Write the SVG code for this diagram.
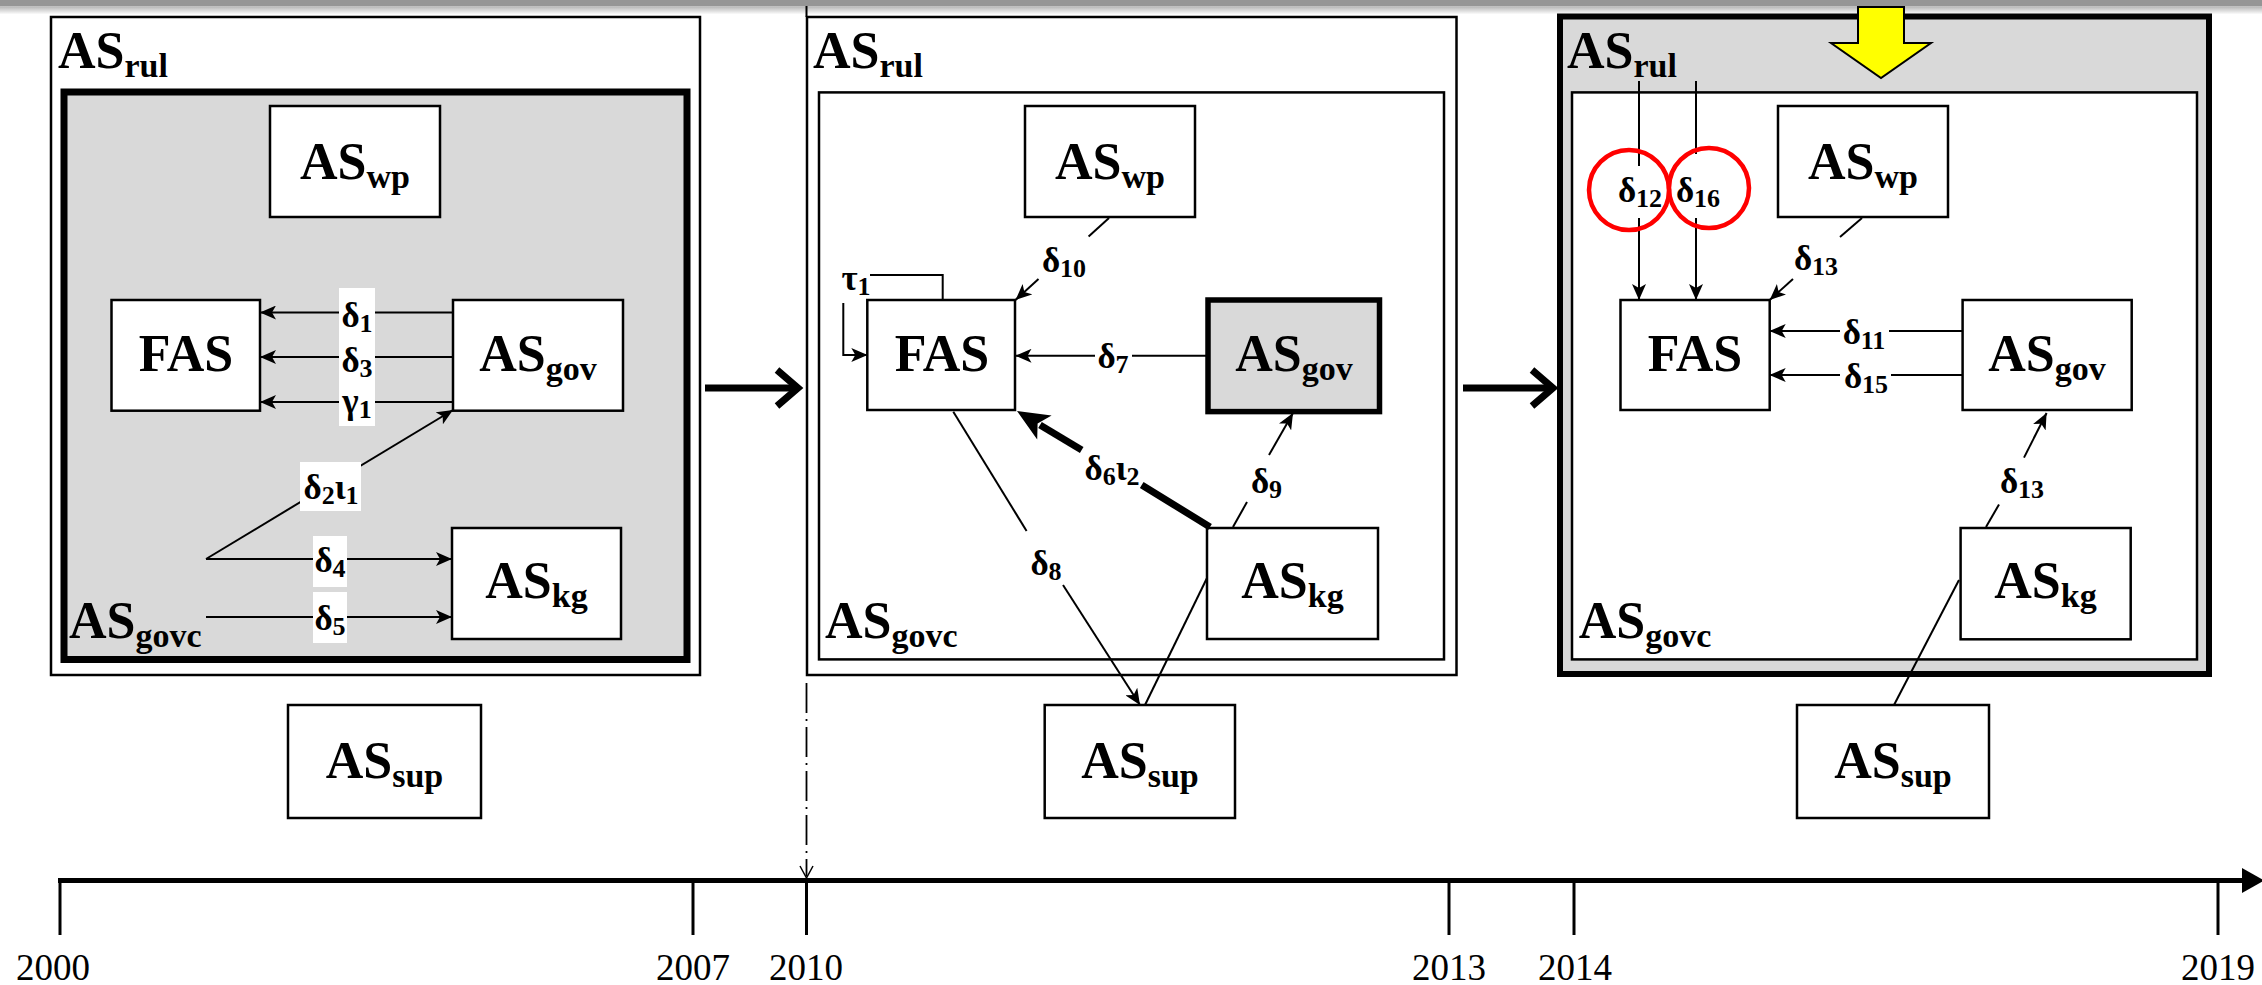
<svg xmlns="http://www.w3.org/2000/svg" width="2262" height="985" viewBox="0 0 2262 985" font-family="'Liberation Serif', 'Times New Roman', serif">
<style>
.frame{fill:#fff;stroke:#000;stroke-width:2.5}
.box{fill:#fff;stroke:#000;stroke-width:2.5}
.t{font-family:'Liberation Serif','Times New Roman',serif;font-weight:bold;font-size:52px;text-anchor:middle;fill:#000}
.ts{font-family:'Liberation Serif','Times New Roman',serif;font-weight:bold;font-size:52px;fill:#000}
.s{font-size:34px}
.lb{font-family:'Liberation Serif','Times New Roman',serif;font-weight:bold;font-size:35px;text-anchor:middle;fill:#000}
.ls{font-size:26px}
.c{stroke:#000;stroke-width:2;fill:none}
.ca{stroke:#000;stroke-width:2;fill:none;marker-end:url(#ah)}
.thick{stroke:#000;stroke-width:7;fill:none}
.yr{font-family:'Liberation Serif','Times New Roman',serif;font-size:37px;text-anchor:middle;fill:#000}
.wbg{fill:#fff;stroke:none}
.ring{fill:none;stroke:#ff0000;stroke-width:4.5}
</style>
<defs>
<marker id="ah" markerUnits="userSpaceOnUse" viewBox="0 0 16 14" refX="16" refY="7" markerWidth="16" markerHeight="14" orient="auto">
<path d="M0,0 L16,7 L0,14 L4,7 Z" fill="#000"/>
</marker>
<linearGradient id="shade" x1="0" y1="0" x2="0" y2="1">
<stop offset="0" stop-color="#b5b5b5"/>
<stop offset="1" stop-color="#ffffff"/>
</linearGradient>
</defs>

<rect x="0" y="0" width="2262" height="6.5" fill="#959595"/>
<rect x="0" y="6.5" width="2262" height="8" fill="url(#shade)"/>

<g id="frame1">
<rect class="frame" x="51" y="17" width="649" height="658"/>
<text class="ts" x="58" y="68">AS<tspan class="s" dy="9">rul</tspan></text>
<rect x="64" y="92" width="623" height="567.5" fill="#d9d9d9" stroke="#000" stroke-width="7"/>
<text class="ts" x="69" y="638">AS<tspan class="s" dy="9">govc</tspan></text>
</g>
<g id="frame2">
<rect class="frame" x="807" y="17" width="649.5" height="658"/>
<text class="ts" x="813" y="68">AS<tspan class="s" dy="9">rul</tspan></text>
<rect class="box" x="819" y="92.4" width="625" height="567"/>
<text class="ts" x="825" y="637.5">AS<tspan class="s" dy="9">govc</tspan></text>
</g>
<g id="frame3">
<rect x="1560" y="16.5" width="649" height="657.5" fill="#d9d9d9" stroke="#000" stroke-width="6"/>
<text class="ts" x="1567" y="68">AS<tspan class="s" dy="9">rul</tspan></text>
<rect class="box" x="1572" y="92.4" width="625" height="567"/>
<text class="ts" x="1578.7" y="637.5">AS<tspan class="s" dy="9">govc</tspan></text>
</g>

<g id="p1-wp"><rect class="box" x="270" y="106" width="170" height="111"/><text class="t" x="355" y="179">AS<tspan class="s" dy="9">wp</tspan></text></g>
<g id="p1-fas"><rect class="box" x="111.5" y="300" width="148.5" height="110.7"/><text class="t" x="186" y="371">FAS</text></g>
<g id="p1-gov"><rect class="box" x="453" y="300" width="170" height="110.7"/><text class="t" x="538" y="371">AS<tspan class="s" dy="9">gov</tspan></text></g>
<g id="p1-kg"><rect class="box" x="452" y="528" width="169" height="111"/><text class="t" x="536.5" y="598">AS<tspan class="s" dy="9">kg</tspan></text></g>
<g id="p1-sup"><rect class="box" x="288" y="705" width="193" height="113"/><text class="t" x="384.5" y="778">AS<tspan class="s" dy="9">sup</tspan></text></g>

<g id="p2-wp"><rect class="box" x="1025" y="106" width="170" height="111"/><text class="t" x="1110" y="179">AS<tspan class="s" dy="9">wp</tspan></text></g>
<g id="p2-fas"><rect class="box" x="867.3" y="300" width="147.7" height="110"/><text class="t" x="942" y="371">FAS</text></g>
<g id="p2-gov"><rect x="1208" y="300" width="171.5" height="111.6" fill="#d9d9d9" stroke="#000" stroke-width="5.5"/><text class="t" x="1294" y="371">AS<tspan class="s" dy="9">gov</tspan></text></g>
<g id="p2-kg"><rect class="box" x="1207" y="528" width="171" height="111"/><text class="t" x="1292.5" y="598">AS<tspan class="s" dy="9">kg</tspan></text></g>
<g id="p2-sup"><rect class="box" x="1044.7" y="705" width="190.3" height="113"/><text class="t" x="1140" y="778">AS<tspan class="s" dy="9">sup</tspan></text></g>

<g id="p3-wp"><rect class="box" x="1778" y="106" width="170" height="111"/><text class="t" x="1863" y="179">AS<tspan class="s" dy="9">wp</tspan></text></g>
<g id="p3-fas"><rect class="box" x="1620.5" y="300" width="149.2" height="110"/><text class="t" x="1695" y="371">FAS</text></g>
<g id="p3-gov"><rect class="box" x="1962.6" y="300" width="169.1" height="110"/><text class="t" x="2047" y="371">AS<tspan class="s" dy="9">gov</tspan></text></g>
<g id="p3-kg"><rect class="box" x="1960.6" y="528" width="170.1" height="111.3"/><text class="t" x="2045.5" y="598">AS<tspan class="s" dy="9">kg</tspan></text></g>
<g id="p3-sup"><rect class="box" x="1797" y="705" width="192" height="113"/><text class="t" x="1893" y="778">AS<tspan class="s" dy="9">sup</tspan></text></g>

<g id="pointer">
<path d="M1858,7 L1904,7 L1904,43 L1931,43 L1881,78 L1831,43 L1858,43 Z" fill="#ffff00" stroke="#000" stroke-width="2"/>
</g>

<g id="connectors">
<line class="ca" x1="453" y1="312.5" x2="260" y2="312.5"/>
<line class="ca" x1="453" y1="357" x2="260" y2="357"/>
<line class="ca" x1="453" y1="402" x2="260" y2="402"/>
<line class="ca" x1="206" y1="559" x2="453" y2="410"/>
<line class="ca" x1="206" y1="559" x2="452" y2="559"/>
<line class="ca" x1="206" y1="617" x2="452" y2="617"/>
<rect class="wbg" x="339" y="288" width="36" height="138"/>
<rect class="wbg" x="300" y="462" width="61" height="49"/>
<rect class="wbg" x="313" y="536" width="34" height="51"/>
<rect class="wbg" x="313" y="592" width="34" height="51"/>
<text class="lb" x="357" y="327">δ<tspan class="ls" dy="5">1</tspan></text>
<text class="lb" x="357" y="372">δ<tspan class="ls" dy="5">3</tspan></text>
<text class="lb" x="357" y="413">γ<tspan class="ls" dy="5">1</tspan></text>
<text class="lb" x="331" y="499">δ<tspan class="ls" dy="5">2</tspan><tspan dy="-5">ι</tspan><tspan class="ls" dy="5">1</tspan></text>
<text class="lb" x="330" y="572">δ<tspan class="ls" dy="5">4</tspan></text>
<text class="lb" x="330" y="630">δ<tspan class="ls" dy="5">5</tspan></text>

<line class="thick" x1="705" y1="388" x2="796" y2="388"/>
<polyline class="thick" points="777,370 798,388 777,406"/>
<line class="thick" x1="1463" y1="388" x2="1551" y2="388"/>
<polyline class="thick" points="1532,370 1553,388 1532,406"/>

<polyline class="c" points="942.7,300 942.7,275 870,275"/>
<polyline class="ca" points="843.3,303 843.3,355 867.3,355"/>
<text class="lb" x="856" y="290">τ<tspan class="ls" dy="5">1</tspan></text>
<line class="c" x1="1109" y1="218" x2="1088.6" y2="236.6"/>
<line class="ca" x1="1038.5" y1="279" x2="1015.5" y2="300"/>
<text class="lb" x="1064" y="272">δ<tspan class="ls" dy="5">10</tspan></text>
<line class="c" x1="1208" y1="355.8" x2="1132" y2="355.8"/>
<line class="ca" x1="1095" y1="355.8" x2="1015.5" y2="355.8"/>
<text class="lb" x="1113" y="368">δ<tspan class="ls" dy="5">7</tspan></text>
<line class="thick" x1="1210" y1="527" x2="1141.7" y2="485"/>
<line class="thick" x1="1081.7" y1="450" x2="1040" y2="425"/>
<path d="M1017,411 L1051.6,415.5 L1037.6,423.4 L1037.2,439.5 Z" fill="#000"/>
<text class="lb" x="1112" y="480">δ<tspan class="ls" dy="5">6</tspan><tspan dy="-5">ι</tspan><tspan class="ls" dy="5">2</tspan></text>
<line class="c" x1="1233" y1="527" x2="1247" y2="502"/>
<line class="ca" x1="1269" y1="455" x2="1293" y2="413"/>
<text class="lb" x="1266.5" y="493">δ<tspan class="ls" dy="5">9</tspan></text>
<line class="c" x1="953.3" y1="411.7" x2="1026.6" y2="531"/>
<line class="ca" x1="1063" y1="585" x2="1140" y2="705"/>
<text class="lb" x="1046" y="575">δ<tspan class="ls" dy="5">8</tspan></text>
<line class="c" x1="1207" y1="578" x2="1145" y2="705"/>

<line class="c" x1="1639" y1="81" x2="1639" y2="166"/>
<line class="ca" x1="1639" y1="218" x2="1639" y2="300"/>
<line class="c" x1="1696" y1="81" x2="1696" y2="154"/>
<line class="ca" x1="1696" y1="218" x2="1696" y2="300"/>
<text class="lb" x="1640" y="202">δ<tspan class="ls" dy="5">12</tspan></text>
<text class="lb" x="1698" y="202">δ<tspan class="ls" dy="5">16</tspan></text>
<line class="c" x1="1862" y1="218" x2="1840" y2="237"/>
<line class="ca" x1="1793" y1="279" x2="1769.7" y2="300"/>
<text class="lb" x="1816" y="270">δ<tspan class="ls" dy="5">13</tspan></text>
<line class="c" x1="1962.6" y1="331" x2="1889" y2="331"/>
<line class="ca" x1="1840" y1="331" x2="1769.7" y2="331"/>
<text class="lb" x="1864" y="344">δ<tspan class="ls" dy="5">11</tspan></text>
<line class="c" x1="1962.6" y1="375" x2="1891" y2="375"/>
<line class="ca" x1="1840" y1="375" x2="1769.7" y2="375"/>
<text class="lb" x="1866" y="388">δ<tspan class="ls" dy="5">15</tspan></text>
<line class="c" x1="1986" y1="527" x2="1999" y2="504.5"/>
<line class="ca" x1="2024" y1="457.6" x2="2046.6" y2="413"/>
<text class="lb" x="2022" y="493">δ<tspan class="ls" dy="5">13</tspan></text>
<line class="c" x1="1959" y1="580" x2="1894" y2="705"/>
<circle class="ring" cx="1629" cy="190" r="40"/>
<circle class="ring" cx="1709" cy="188" r="40"/>

<line class="c" x1="806.5" y1="6" x2="806.5" y2="17"/>
<line x1="806.5" y1="683" x2="806.5" y2="876" stroke="#000" stroke-width="1.8" stroke-dasharray="30 6 2 6"/>
<polyline points="800,866 806.5,878 813,866" fill="none" stroke="#000" stroke-width="1.5"/>
</g>

<g id="timeline">
<line x1="58" y1="880.5" x2="2244" y2="880.5" stroke="#000" stroke-width="5"/>
<path d="M2242,868 L2264,880.5 L2242,893 Z" fill="#000"/>
<g stroke="#000" stroke-width="3">
<line x1="60" y1="879" x2="60" y2="935"/>
<line x1="693" y1="879" x2="693" y2="935"/>
<line x1="806.5" y1="879" x2="806.5" y2="935"/>
<line x1="1449" y1="879" x2="1449" y2="935"/>
<line x1="1574" y1="879" x2="1574" y2="935"/>
<line x1="2218" y1="879" x2="2218" y2="935"/>
</g>
<text class="yr" x="53" y="980">2000</text>
<text class="yr" x="693" y="980">2007</text>
<text class="yr" x="806" y="980">2010</text>
<text class="yr" x="1449" y="980">2013</text>
<text class="yr" x="1575" y="980">2014</text>
<text class="yr" x="2218" y="980">2019</text>
</g>
</svg>
